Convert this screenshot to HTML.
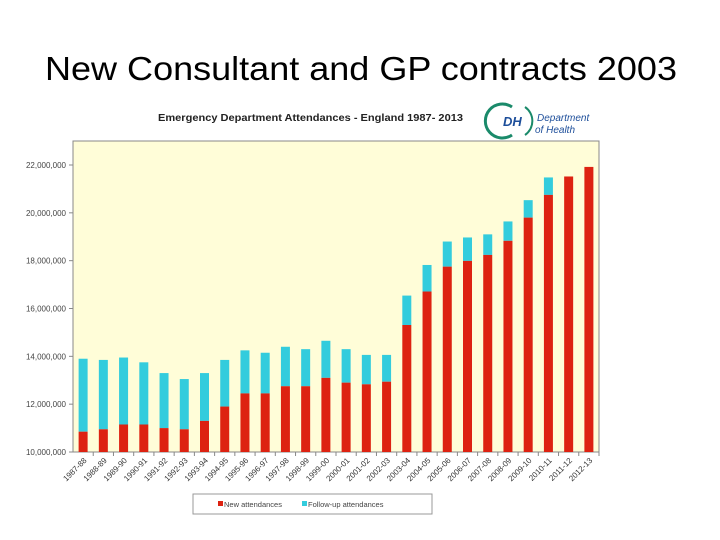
<!DOCTYPE html>
<html><head><meta charset="utf-8"><style>
body{margin:0;background:#fff;}
svg{display:block;font-family:"Liberation Sans",sans-serif;}
</style></head><body>
<svg id="c" width="720" height="540">
<text x="45" y="80" font-size="33" textLength="632" lengthAdjust="spacingAndGlyphs" fill="#000">New Consultant and GP contracts 2003</text>
<text x="158" y="121" font-size="10" font-weight="bold" textLength="305" lengthAdjust="spacingAndGlyphs" fill="#222">Emergency Department Attendances - England 1987- 2013</text>
<g>
<path d="M512 107 A17 17 0 1 0 512 135" fill="none" stroke="#1a8a6a" stroke-width="3"/>
<path d="M525 107 A17 17 0 0 1 525 135" fill="none" stroke="#1a8a6a" stroke-width="2"/>
<text x="503" y="126" font-size="13" font-weight="bold" font-style="italic" fill="#1d4e9a">DH</text>
<text x="537" y="121" font-size="10" font-style="italic" fill="#1d4e9a">Department</text>
<text x="535" y="133" font-size="10" font-style="italic" fill="#1d4e9a">of Health</text>
</g>
<rect x="73" y="141" width="526" height="311" fill="#FFFDD8" stroke="#888" stroke-width="1"/>
<g id="yaxis"></g><g id="bars"></g><g id="xaxis"></g>
<g>
<rect x="193" y="494" width="239" height="20" fill="#fff" stroke="#999"/>
<g><rect x="218" y="501" width="5" height="5" fill="#DD2211"/><text x="224" y="507" font-size="7.5" fill="#444">New attendances</text></g>
<g><rect x="302" y="501" width="5" height="5" fill="#33CCDD"/><text x="308" y="507" font-size="7.5" fill="#444">Follow-up attendances</text></g>
</g>
</svg>
<script>
const categories=["1987-88","1988-89","1989-90","1990-91","1991-92","1992-93","1993-94","1994-95","1995-96","1996-97","1997-98","1998-99","1999-00","2000-01","2001-02","2002-03","2003-04","2004-05","2005-06","2006-07","2007-08","2008-09","2009-10","2010-11","2011-12","2012-13"];
const newAtt=[10.85,10.95,11.15,11.15,11.0,10.95,11.3,11.9,12.45,12.45,12.75,12.75,13.1,12.9,12.83,12.94,15.31,16.71,17.75,17.99,18.24,18.83,19.8,20.75,21.52,21.92];
const totalAtt=[13.9,13.85,13.95,13.75,13.3,13.05,13.3,13.85,14.25,14.15,14.4,14.3,14.65,14.3,14.06,14.06,16.54,17.82,18.8,18.97,19.1,19.64,20.53,21.48,21.52,21.92];
const yTicks=[10,12,14,16,18,20,22];
const yTickLabels=["10,000,000","12,000,000","14,000,000","16,000,000","18,000,000","20,000,000","22,000,000"];
const NS="http://www.w3.org/2000/svg";
const x0=73,x1=599,yb=452,yt=141;
const band=(x1-x0)/categories.length;
function xc(i){return x0+(i+0.5)*band;}
function y(v){return yb-(v-10)*(452-165)/12;}
function mk(t,a,p){const e=document.createElementNS(NS,t);for(const k in a)e.setAttribute(k,a[k]);p.appendChild(e);return e;}
const ya=document.getElementById('yaxis'),bg=document.getElementById('bars'),xa=document.getElementById('xaxis');
yTicks.forEach((v,i)=>{
 const t=mk('line',{x1:69,x2:73,y1:y(v),y2:y(v),stroke:'#888'},ya);
 
 
 const l=mk('text',{x:66,y:y(v)+3,'font-size':8,'text-anchor':'end',fill:'#444'},ya);
 l.textContent=yTickLabels[i];
 
 
});
categories.forEach((c,i)=>{
 const w=9,cx=xc(i);
 const f=mk('rect',{x:cx-w/2,y:y(totalAtt[i]),width:w,height:Math.max(0,y(newAtt[i])-y(totalAtt[i])),fill:'#33CCDD'},bg);
 
 
 const n=mk('rect',{x:cx-w/2,y:y(newAtt[i]),width:w,height:yb-y(newAtt[i]),fill:'#DD2211'},bg);
 
 
 const tk=mk('line',{x1:x0+(i+1)*band,x2:x0+(i+1)*band,y1:yb,y2:yb+4,stroke:'#888'},xa);
 
 
 const tx=mk('text',{x:cx+4,y:yb+9,'font-size':8,'text-anchor':'end',fill:'#333',transform:`rotate(-45 ${cx+4} ${yb+9})`},xa);
 tx.textContent=c;
 
 
});
</script>
</body></html>
